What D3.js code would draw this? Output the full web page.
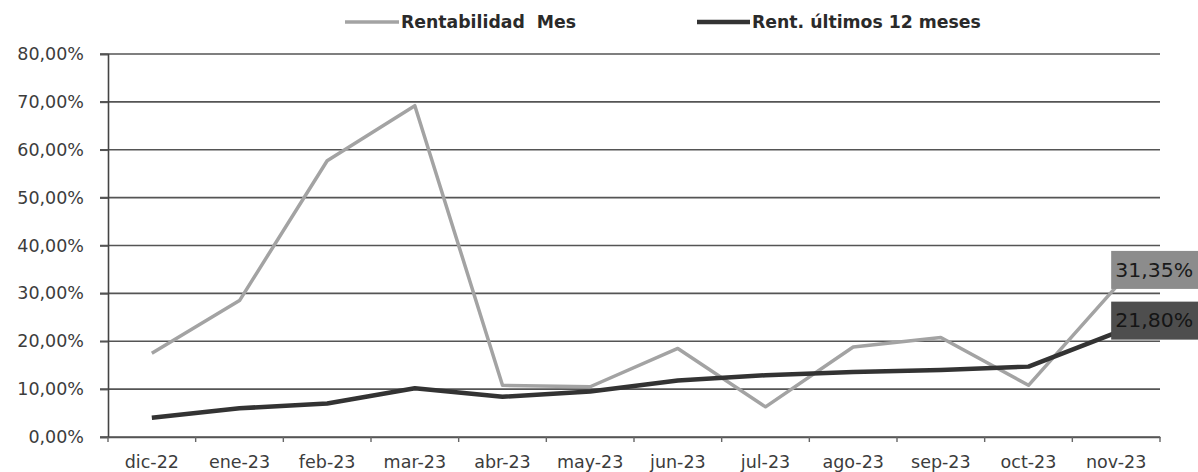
<!DOCTYPE html>
<html><head><meta charset="utf-8">
<script src="https://cdn.jsdelivr.net/npm/d3@7"></script>
<style>
html,body{margin:0;padding:0;background:#fff;}
svg{display:block;font-family:"DejaVu Sans",Verdana,sans-serif;}
</style></head>
<body><svg id="c" width="1198" height="472"></svg>
<script>
const categories = ["dic-22","ene-23","feb-23","mar-23","abr-23","may-23","jun-23","jul-23","ago-23","sep-23","oct-23","nov-23"];
const rentMes = [17.5, 28.5, 57.7, 69.2, 10.8, 10.5, 18.5, 6.3, 18.8, 20.8, 10.8, 31.35];
const rent12 = [4.0, 6.0, 7.0, 10.2, 8.4, 9.5, 11.8, 12.9, 13.6, 14.0, 14.7, 21.80];
const yTicks = [0,10,20,30,40,50,60,70,80];
const seriesNames = ["Rentabilidad  Mes", "Rent. últimos 12 meses"];
const seriesColors = ["#a3a3a3", "#333333"];

const svg = d3.select("#c");
const fmt = v => v.toFixed(2).replace(".", ",") + "%";
const FONT = "'DejaVu Sans',Verdana,sans-serif";

const x = d3.scaleBand().domain(categories).range([108, 1160]).padding(0);
const y = d3.scaleLinear().domain([0, 80]).range([437, 54]);

// gridlines
svg.append("g").selectAll("line").data(yTicks).join("line")
  .attr("x1", 100).attr("x2", 1160)
  .attr("y1", d => y(d)).attr("y2", d => y(d))
  .attr("stroke", "#555").attr("stroke-width", 1.6);

// y axis
const yAxis = svg.append("g").attr("transform", "translate(108,0)")
  .call(d3.axisLeft(y).tickValues(yTicks).tickFormat(fmt).tickSize(8).tickPadding(16));
yAxis.select(".domain").attr("stroke", "#444").attr("stroke-width", 1.6);
yAxis.selectAll(".tick line").attr("stroke", "#555").attr("stroke-width", 1.6);
yAxis.selectAll("text").attr("font-size", 17.5).attr("fill", "#3c3c3c")
  .attr("font-family", FONT);

// x axis
const xAxis = svg.append("g").attr("transform", "translate(0,437)")
  .call(d3.axisBottom(x).tickSize(0).tickPadding(19));
xAxis.select(".domain").attr("stroke", "#555").attr("stroke-width", 1.6);
xAxis.selectAll("text").attr("font-size", 17.5).attr("fill", "#3c3c3c")
  .attr("font-family", FONT);
// tick marks at band boundaries
svg.append("g").selectAll("line").data(categories.concat(["_end"])).join("line")
  .attr("x1", (d,i) => i < categories.length ? x(d) : x.range()[1])
  .attr("x2", (d,i) => i < categories.length ? x(d) : x.range()[1])
  .attr("y1", 437).attr("y2", 442)
  .attr("stroke", "#666").attr("stroke-width", 1.4);

const cx = d => x(d) + x.bandwidth() / 2;
const line = d3.line().x((d,i) => cx(categories[i])).y(d => y(d));

svg.append("path").datum(rentMes).attr("d", line)
  .attr("fill", "none").attr("stroke", seriesColors[0]).attr("stroke-width", 3.5)
  .attr("stroke-linejoin", "round");
svg.append("path").datum(rent12).attr("d", line)
  .attr("fill", "none").attr("stroke", seriesColors[1]).attr("stroke-width", 4.5)
  .attr("stroke-linejoin", "round");

// end labels
const last = categories.length - 1;
const labels = [
  {v: rentMes[last], fill: "#8c8c8c", dy: -17, tc: "#1a1a1a"},
  {v: rent12[last], fill: "#4e4e4e", dy: -12, tc: "#151515"}
];
labels.forEach(l => {
  const lx = cx(categories[last]) - 5;
  const ly = y(l.v) + l.dy;
  svg.append("rect").attr("x", lx).attr("y", ly - 19).attr("width", 1198 - lx).attr("height", 38)
    .attr("fill", l.fill);
  svg.append("text").attr("x", lx + 4).attr("y", ly).attr("dy", "0.36em")
    .attr("font-size", 19).attr("textLength", 78).attr("lengthAdjust", "spacingAndGlyphs")
    .attr("fill", l.tc).text(fmt(l.v));
});

// legend
const leg = [{x: 345, tx: 401}, {x: 697, tx: 752}];
leg.forEach((p, i) => {
  svg.append("line").attr("x1", p.x).attr("x2", p.tx - 2).attr("y1", 22).attr("y2", 22)
    .attr("stroke", seriesColors[i]).attr("stroke-width", i ? 4.5 : 3.5);
  svg.append("text").attr("x", p.tx).attr("y", 22).attr("dy", "0.35em")
    .attr("font-size", 17.3).attr("font-weight", "bold").attr("fill", "#2a2a2a")
    .attr("xml:space", "preserve")
    .text(seriesNames[i]);
});
</script></body></html>
